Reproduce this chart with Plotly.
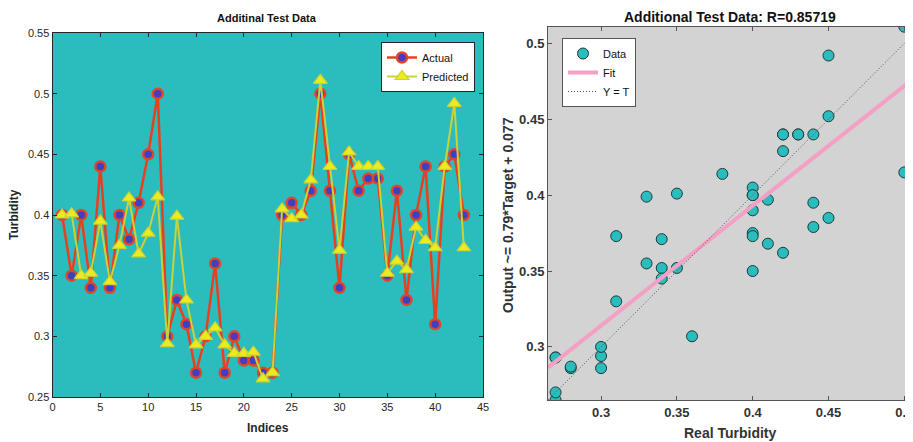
import plotly.graph_objects as go

indices = list(range(1, 44))
actual = [0.40, 0.35, 0.40, 0.34, 0.44, 0.34, 0.40, 0.38, 0.41, 0.45,
          0.50, 0.30, 0.33, 0.31, 0.27, 0.30, 0.36, 0.27, 0.30, 0.28,
          0.28, 0.27, 0.27, 0.40, 0.41, 0.40, 0.42, 0.50, 0.42, 0.34,
          0.45, 0.42, 0.43, 0.43, 0.35, 0.42, 0.33, 0.40, 0.44, 0.31,
          0.44, 0.45, 0.40]
predicted = [0.400, 0.401, 0.350, 0.352, 0.395, 0.345, 0.375, 0.414, 0.368, 0.385,
             0.415, 0.294, 0.399, 0.330, 0.293, 0.300, 0.307, 0.293, 0.286, 0.286,
             0.287, 0.265, 0.270, 0.405, 0.397, 0.400, 0.429, 0.511, 0.440, 0.371,
             0.452, 0.440, 0.440, 0.440, 0.352, 0.362, 0.355, 0.390, 0.379, 0.373,
             0.440, 0.492, 0.373]
fit_slope = 0.79
fit_intercept = 0.077
r_value = "0.85719"

FONT = "Arial, Liberation Sans, sans-serif"
W, H = 913, 442
OFF = 8  # page body margin in the browser

def px_x(p):
    return (p - OFF) / W

def px_y(p):
    return (H - (p - OFF)) / H

lo = min(min(actual), min(predicted))
hi = max(max(actual), max(predicted))
line_x = [lo, hi]
fit_y = [fit_slope * v + fit_intercept for v in line_x]

fig = go.Figure()

# Left chart
fig.add_trace(go.Scatter(
    x=indices, y=actual, mode="lines+markers", name="Actual",
    line=dict(color="#E8401F", width=2.5),
    marker=dict(symbol="circle", size=10, color="#3F3FC4",
                line=dict(color="#E0452A", width=2.5)),
    xaxis="x", yaxis="y", legend="legend"))
fig.add_trace(go.Scatter(
    x=indices, y=predicted, mode="lines+markers", name="Predicted",
    line=dict(color="#C9D236", width=2),
    marker=dict(symbol="triangle-up", size=12, color="#EDEB1E",
                line=dict(color="#C9D236", width=1.2)),
    xaxis="x", yaxis="y", legend="legend"))

# Right chart
fig.add_trace(go.Scatter(
    x=actual, y=predicted, mode="markers", name="Data",
    marker=dict(symbol="circle", size=11, color="#2BBDBD",
                line=dict(color="#1E3A3A", width=1)),
    xaxis="x2", yaxis="y2", legend="legend2", cliponaxis=True))
fig.add_trace(go.Scatter(
    x=line_x, y=fit_y, mode="lines", name="Fit",
    line=dict(color="#F4A0C4", width=4),
    xaxis="x2", yaxis="y2", legend="legend2"))
fig.add_trace(go.Scatter(
    x=line_x, y=line_x, mode="lines", name="Y = T",
    line=dict(color="#555555", width=1, dash="1px,2px"),
    xaxis="x2", yaxis="y2", legend="legend2"))

axis_common = dict(ticks="inside", showline=True, mirror="ticks",
                   showgrid=False, zeroline=False, ticklen=4, automargin=False)

def ann(text, x, y, size, color, angle=0):
    return dict(text=text, x=px_x(x), y=px_y(y), xref="paper", yref="paper",
                xanchor="center", yanchor="middle", showarrow=False,
                textangle=angle, font=dict(size=size, color=color))

fig.update_layout(
    width=W, height=H,
    margin=dict(l=0, r=0, t=0, b=0, autoexpand=False),
    paper_bgcolor="white",
    plot_bgcolor="#2BBDBE",
    font=dict(family=FONT, color="#262626"),
    xaxis=dict(domain=[px_x(52.5), px_x(483)], range=[0, 45], dtick=5,
               linecolor="#262626", tickcolor="#262626", tickwidth=1,
               tickfont=dict(size=11, color="#262626"), **axis_common),
    yaxis=dict(domain=[px_y(397), px_y(33)], range=[0.25, 0.55], dtick=0.05,
               linecolor="#262626", tickcolor="#262626",
               tickfont=dict(size=11, color="#262626"), **axis_common),
    xaxis2=dict(domain=[px_x(548), 1.0], range=[lo, hi],
                tickvals=[0.3, 0.35, 0.4, 0.45, 0.5],
                linecolor="#555555", tickcolor="#555555",
                tickfont=dict(size=13, color="#333333", weight="bold"),
                anchor="y2", **axis_common),
    yaxis2=dict(domain=[px_y(400), px_y(26.7)], range=[lo, hi],
                tickvals=[0.3, 0.35, 0.4, 0.45, 0.5],
                linecolor="#555555", tickcolor="#555555",
                tickfont=dict(size=13, color="#333333", weight="bold"),
                anchor="x2", **axis_common),
    legend=dict(x=px_x(381), y=px_y(42), xanchor="left", yanchor="top",
                bgcolor="white", bordercolor="#262626", borderwidth=1,
                font=dict(size=11, color="#111111"),
                tracegroupgap=0, itemwidth=30),
    legend2=dict(x=px_x(562), y=px_y(38), xanchor="left", yanchor="top",
                 bgcolor="white", bordercolor="#555555", borderwidth=1,
                 font=dict(size=11, color="#111111"),
                 tracegroupgap=0, itemwidth=30),
    annotations=[
        ann("<b>Additinal Test Data</b>", 267, 18, 11, "#111111"),
        ann("<b>Additional Test Data: R=%s</b>" % r_value, 730, 16.5, 14, "#111111"),
        ann("<b>Indices</b>", 268, 428, 12, "#262626"),
        ann("<b>Turbidity</b>", 14, 215, 12, "#262626", -90),
        ann("<b>Real Turbidity</b>", 730, 433, 14, "#333333"),
        ann("<b>Output ~= 0.79*Target + 0.077</b>", 508, 215, 14, "#333333", -90),
    ],
)
fig.add_shape(type="rect", xref="x2 domain", yref="y2 domain", x0=0, x1=1, y0=0, y1=1,
              fillcolor="#D3D3D3", line=dict(width=0), layer="below")

fig.write_html("out.html")
